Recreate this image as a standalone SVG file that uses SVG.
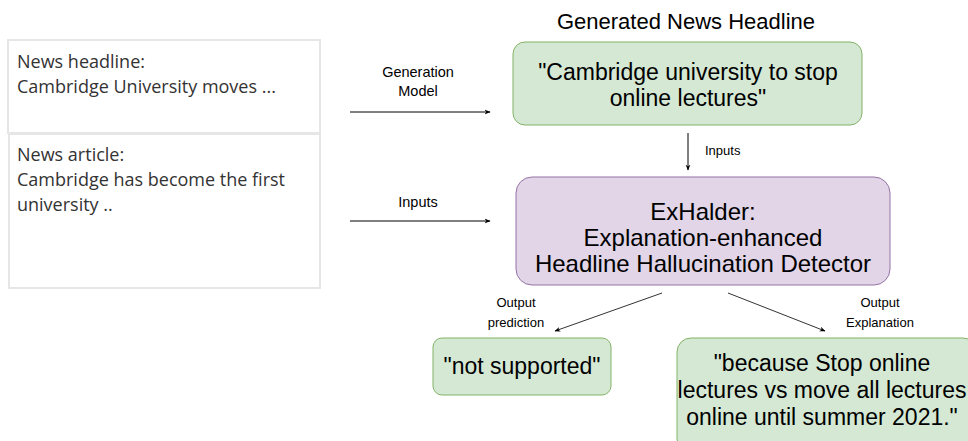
<svg xmlns="http://www.w3.org/2000/svg" width="968" height="441" viewBox="0 0 968 441">
<defs>
<style>
.src{fill:#fff;stroke:#e6e6e6;stroke-width:2}
.srct{font-family:"Open Sans","Noto Sans",sans-serif;font-size:18px;fill:#333}
.green{fill:#d5e8d4;stroke:#82b366;stroke-width:1}
.purple{fill:#e1d5e7;stroke:#9673a6;stroke-width:1}
.big{font-family:"Liberation Sans",Arial,sans-serif;font-size:23px;fill:#000;text-anchor:middle}
.lbl{font-family:"Liberation Sans",Arial,sans-serif;font-size:13px;fill:#000;text-anchor:middle}
.lbl13{font-family:"Liberation Sans",Arial,sans-serif;font-size:14.5px;fill:#000;text-anchor:middle}
.title{font-family:"Liberation Sans",Arial,sans-serif;font-size:22px;fill:#000;text-anchor:middle}
.edge{stroke:#000;stroke-width:1;fill:none;marker-end:url(#ah)}
.edge2{stroke:#333;stroke-width:1;fill:none;marker-end:url(#ah)}
</style>
<marker id="ah" viewBox="0 0 10 10" refX="9" refY="5" markerWidth="6" markerHeight="6" orient="auto" markerUnits="userSpaceOnUse">
<path d="M0,1 L10,5 L0,9 L3,5 Z" fill="#000"/>
</marker>
</defs>

<g id="headline-input">
<rect class="src" x="8" y="40" width="312" height="93"/>
<text class="srct" x="17" y="68">News headline:</text>
<text class="srct" x="17" y="93">Cambridge University moves ...</text>
</g>

<g id="article-input">
<rect class="src" x="9" y="134" width="311" height="154"/>
<text class="srct" x="17" y="161">News article:</text>
<text class="srct" x="17" y="186">Cambridge has become the first</text>
<text class="srct" x="17" y="211">university ..</text>
</g>

<g id="title">
<text class="title" x="686" y="29">Generated News Headline</text>
</g>

<g id="generated-headline">
<rect class="green" x="513" y="42" width="349" height="83" rx="12"/>
<text class="big" x="688" y="80">"Cambridge university to stop</text>
<text class="big" x="688" y="106">online lectures"</text>
</g>

<g id="exhalder">
<rect class="purple" x="516" y="177" width="374" height="108" rx="16"/>
<text class="big" x="703" y="220" style="font-size:24px">ExHalder:</text>
<text class="big" x="703" y="246" style="font-size:24px">Explanation-enhanced</text>
<text class="big" x="703" y="272" style="font-size:24px">Headline Hallucination Detector</text>
</g>

<g id="prediction">
<rect class="green" x="433" y="338" width="178" height="57" rx="9"/>
<text class="big" x="522" y="374">"not supported"</text>
</g>

<g id="explanation">
<rect class="green" x="677" y="338" width="300" height="115" rx="14"/>
<text class="big" x="822" y="371">"because Stop online</text>
<text class="big" x="822" y="398">lectures vs move all lectures</text>
<text class="big" x="822" y="425">online until summer 2021."</text>
</g>

<g id="connectors">
<line class="edge" x1="350" y1="112" x2="490" y2="112"/>
<text class="lbl13" x="418" y="77">Generation</text>
<text class="lbl13" x="418" y="96">Model</text>
<line class="edge" x1="350" y1="221" x2="490" y2="221"/>
<text class="lbl13" x="418" y="207">Inputs</text>
<line class="edge" x1="688" y1="133" x2="688" y2="170"/>
<text class="lbl" x="705" y="155" style="text-anchor:start">Inputs</text>
<line class="edge2" x1="662" y1="293" x2="555" y2="331"/>
<text class="lbl" x="516" y="307">Output</text>
<text class="lbl" x="516" y="327">prediction</text>
<line class="edge2" x1="728" y1="293" x2="825" y2="331"/>
<text class="lbl" x="880" y="307">Output</text>
<text class="lbl" x="880" y="327">Explanation</text>
</g>
</svg>
